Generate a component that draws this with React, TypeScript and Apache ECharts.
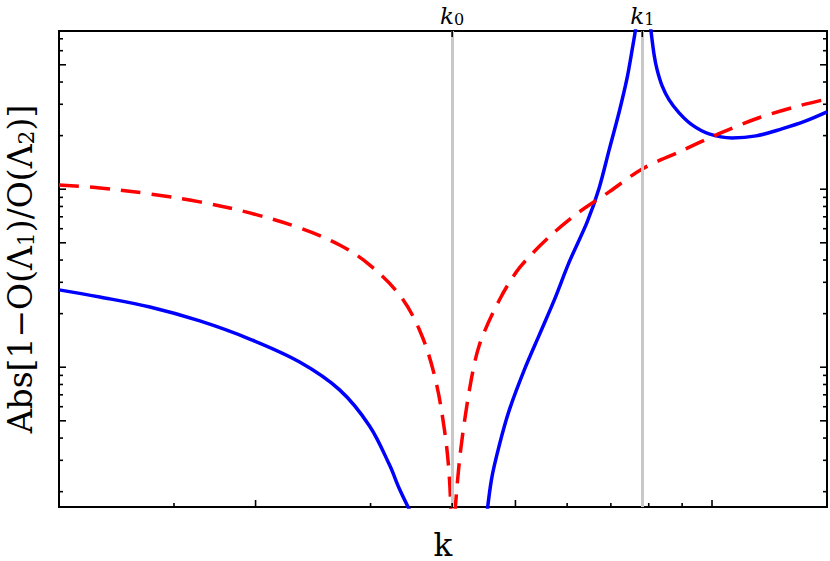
import React, { useEffect, useRef } from 'react';
import * as echarts from 'echarts';

const K_MIN = 1;
const K_MAX = 15;
const Y_MIN = 0.00164;
const Y_MAX = 0.774;
const k0 = 4.0;
const k1 = 7.82;

// red dashed curve
const redLeftK = [1.0, 1.155, 1.378, 1.643, 1.959, 2.336, 2.69, 2.989, 3.322, 3.565, 3.757, 3.893, 3.963, 3.995];
const redLeftV = [0.1057, 0.1017, 0.0941, 0.0849, 0.0736, 0.0606, 0.0486, 0.0376, 0.0255, 0.0162, 0.00904, 0.00444, 0.00233, 0.001];
const redRightK = [4.005, 4.105, 4.251, 4.403, 4.725, 5.07, 5.634, 6.261, 6.958, 7.816, 8.904, 10.25, 11.8, 13.59, 15.0];
const redRightV = [0.001, 0.00301, 0.00745, 0.01334, 0.02388, 0.03612, 0.054, 0.0745, 0.0966, 0.13, 0.162, 0.205, 0.252, 0.294, 0.321];

// blue solid curve (three branches)
const blueLeftK = [1.0, 1.155, 1.378, 1.643, 1.959, 2.336, 2.69, 2.989, 3.208, 3.322, 3.466];
const blueLeftV = [0.0272, 0.0248, 0.0218, 0.0182, 0.0144, 0.0107, 0.00746, 0.00468, 0.00282, 0.00207, 0.0015];
const blueMidK = [4.49, 4.594, 4.725, 4.894, 5.159, 5.439, 5.735, 6.045, 6.44, 6.717, 6.958, 7.208, 7.413, 7.545, 7.652, 7.7];
const blueMidV = [0.0012, 0.00233, 0.00366, 0.00576, 0.00966, 0.01519, 0.02388, 0.03905, 0.0655, 0.1017, 0.1663, 0.2716, 0.4219, 0.606, 0.838, 1.2];
const blueRightK = [8.02, 8.068, 8.154, 8.241, 8.387, 8.597, 8.904, 9.32, 9.895, 10.73, 11.68, 12.79, 13.92, 15.0];
const blueRightV = [0.95, 0.765, 0.568, 0.468, 0.3804, 0.3174, 0.2684, 0.2297, 0.2045, 0.1942, 0.1993, 0.2182, 0.2419, 0.2718];

// tick values
const xMajorTicks = [2, 5, 10];
const xMinorTicks = [1.5, 3, 4, 6, 7, 8, 9];
const topTicks = [k0, k1];
const yMajorTicks = [0.005, 0.01, 0.05, 0.1, 0.5];
const yMinorTicks = [0.002, 0.003, 0.004, 0.006, 0.007, 0.008, 0.009, 0.02, 0.03, 0.04, 0.06, 0.07, 0.08, 0.09, 0.2, 0.3, 0.4, 0.6, 0.7];

const zip = (a: number[], b: number[]) => a.map((x, i) => [x, b[i]]);

const SERIF = 'DejaVu Serif, Liberation Serif, serif';

export default function App() {
  const ref = useRef<HTMLDivElement>(null);
  useEffect(() => {
    document.body.style.margin = '0';
    const chart = echarts.init(ref.current!, null, { renderer: 'svg' });
    const tickData = [
      ...xMajorTicks.map((k) => [k, Y_MIN, 0, 7]),
      ...xMinorTicks.map((k) => [k, Y_MIN, 0, 4]),
      ...topTicks.map((k) => [k, Y_MAX, 2, 6]),
      ...yMajorTicks.map((v) => [K_MIN, v, 1, 7]),
      ...yMinorTicks.map((v) => [K_MIN, v, 1, 4]),
    ];
    const blue = { color: '#0000ff', width: 3.5 };
    const red = { color: '#ff0000', width: 3.5, type: [20, 11] as any };
    const option: any = {
      animation: false,
      grid: { left: 59, right: 3, top: 31, bottom: 54, outerBoundsMode: 'none', containLabel: false, show: true, borderColor: '#000', borderWidth: 2, backgroundColor: 'transparent' },
      xAxis: {
        type: 'log', logBase: 10, min: K_MIN, max: K_MAX,
        axisLine: { show: false }, axisTick: { show: false }, axisLabel: { show: false }, splitLine: { show: false },
        name: 'k', nameLocation: 'middle', nameGap: 26,
        nameTextStyle: { fontFamily: SERIF, fontSize: 31, color: '#000', lineHeight: 24 },
      },
      yAxis: {
        type: 'log', logBase: 10, min: Y_MIN, max: Y_MAX,
        axisLine: { show: false }, axisTick: { show: false }, axisLabel: { show: false }, splitLine: { show: false },
        name: '{n|Abs[1−O(Λ}{s|1}{n|)/O(Λ}{s|2}{n|)]}', nameLocation: 'middle', nameGap: 22, nameRotate: 90,
        nameTextStyle: {
          color: '#000',
          rich: {
            n: { fontFamily: SERIF, fontSize: 33, color: '#000', lineHeight: 33, verticalAlign: 'bottom' },
            s: { fontFamily: SERIF, fontSize: 22, color: '#000', lineHeight: 27, verticalAlign: 'bottom' },
          },
        },
      },
      series: [
        {
          type: 'line', data: [], z: 1, silent: true,
          markLine: {
            symbol: 'none', silent: true, animation: false,
            lineStyle: { color: '#c8c8c8', width: 3, type: 'solid' },
            label: {
              show: true, position: 'end', distance: 4,
              formatter: (p: any) => (p.value === k0 ? '{k|k}{s|0}' : '{k|k}{s|1}'),
              rich: {
                k: { fontFamily: SERIF, fontStyle: 'italic', fontSize: 23, color: '#000', lineHeight: 27, verticalAlign: 'bottom' },
                s: { fontFamily: SERIF, fontSize: 16, color: '#000', lineHeight: 21, verticalAlign: 'bottom' },
              },
            },
            data: [{ xAxis: k0 }, { xAxis: k1 }],
          },
        },
        { type: 'line', data: zip(blueLeftK, blueLeftV), showSymbol: false, lineStyle: blue, z: 3, clip: true, smooth: 0.35 },
        { type: 'line', data: zip(blueMidK, blueMidV), showSymbol: false, lineStyle: blue, z: 3, clip: true, smooth: 0.3 },
        { type: 'line', data: zip(blueRightK, blueRightV), showSymbol: false, lineStyle: blue, z: 3, clip: true, smooth: 0.35 },
        { type: 'line', data: zip(redLeftK, redLeftV), showSymbol: false, lineStyle: red, z: 4, clip: true, smooth: 0.35 },
        { type: 'line', data: zip(redRightK, redRightV), showSymbol: false, lineStyle: red, z: 4, clip: true, smooth: 0.3 },
        {
          type: 'custom', silent: true, z: 5, clip: false,
          encode: { x: 0, y: 1 },
          data: tickData,
          renderItem: (_params: any, api: any) => {
            const kind = api.value(2);
            const len = api.value(3);
            const st = { stroke: '#000', lineWidth: 1.6 };
            if (kind === 0) {
              const p = api.coord([api.value(0), Y_MIN]);
              return { type: 'line', shape: { x1: p[0], y1: p[1], x2: p[0], y2: p[1] - len }, style: st };
            }
            if (kind === 2) {
              const p = api.coord([api.value(0), Y_MAX]);
              return { type: 'line', shape: { x1: p[0], y1: p[1], x2: p[0], y2: p[1] + len }, style: st };
            }
            const l = api.coord([K_MIN, api.value(1)]);
            const r = api.coord([K_MAX, api.value(1)]);
            return {
              type: 'group',
              children: [
                { type: 'line', shape: { x1: l[0], y1: l[1], x2: l[0] + len, y2: l[1] }, style: st },
                { type: 'line', shape: { x1: r[0], y1: r[1], x2: r[0] - len, y2: r[1] }, style: st },
              ],
            };
          },
        },
      ],
    };
    chart.setOption(option);
    return () => chart.dispose();
  }, []);
  return <div ref={ref} style={{ width: 830, height: 561 }} />;
}
